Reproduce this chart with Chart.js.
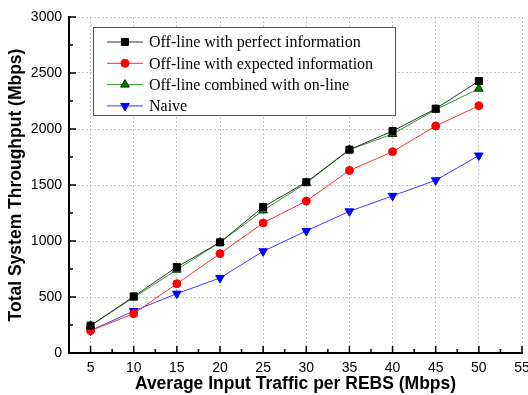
<!DOCTYPE html>
<html>
<head>
<meta charset="utf-8">
<script src="https://cdn.jsdelivr.net/npm/chart.js@4.4.1/dist/chart.umd.min.js"></script>
<style>
  html, body { margin: 0; padding: 0; background: #fff; }
  #wrap { width: 528px; height: 395px; position: relative; }
</style>
</head>
<body>
<div id="wrap"><canvas id="chart" width="528" height="395"></canvas></div>
<script>
// Данные графика
const traffic = [5, 10, 15, 20, 25, 30, 35, 40, 45, 50];
const perfectInfo = [244, 505, 768, 988, 1304, 1525, 1815, 1982, 2181, 2428];
const expectedInfo = [200, 351, 619, 887, 1161, 1357, 1630, 1797, 2027, 2208];
const combinedOnline = [244, 495, 744, 988, 1273, 1518, 1815, 1955, 2173, 2360];
const naive = [200, 375, 530, 670, 908, 1090, 1265, 1403, 1542, 1763];

const seriesNames = [
  "Off-line with perfect information",
  "Off-line with expected information",
  "Off-line combined with on-line",
  "Naive",
];

// Деления осей
const xTicks = [5, 10, 15, 20, 25, 30, 35, 40, 45, 50, 55];
const xMinorTicks = [7.5, 12.5, 17.5, 22.5, 27.5, 32.5, 37.5, 42.5, 47.5, 52.5];
const yTicks = [0, 500, 1000, 1500, 2000, 2500, 3000];
const yMinorTicks = [250, 750, 1250, 1750, 2250, 2750];

const xTitle = "Average Input Traffic per REBS (Mbps)";
const yTitle = "Total System Throughput (Mbps)";

function toPoints(values) {
  return values.map((v, i) => ({ x: traffic[i], y: v }));
}

// Легенда внутри области графика
const insideLegend = {
  id: "insideLegend",
  afterDraw(chart) {
    const ctx = chart.ctx;
    ctx.save();
    ctx.fillStyle = "#fff";
    ctx.fillRect(93.5, 27.5, 302, 88);
    ctx.strokeStyle = "#555";
    ctx.lineWidth = 1;
    ctx.strokeRect(93.5, 27.5, 302, 88);
    ctx.font = '16px "Liberation Serif"';
    ctx.textBaseline = "middle";
    chart.data.datasets.forEach((ds, i) => {
      const y = 42 + i * 21.3;
      ctx.strokeStyle = ds.borderColor;
      ctx.lineWidth = 1;
      ctx.beginPath();
      ctx.moveTo(107, y);
      ctx.lineTo(143, y);
      ctx.stroke();
      ctx.fillStyle = ds.pointBackgroundColor;
      ctx.strokeStyle = ds.pointBorderColor;
      Chart.helpers.drawPoint(ctx, {
        pointStyle: ds.pointStyle,
        radius: ds.pointRadius,
        rotation: ds.pointRotation || 0,
        borderWidth: 1,
      }, 125, y);
      ctx.fillStyle = "#000";
      ctx.fillText(ds.label, 149, y + 1);
    });
    ctx.restore();
  },
};

// Внутренние засечки на осях
const innerTicks = {
  id: "innerTicks",
  afterDraw(chart) {
    const { ctx, chartArea, scales } = chart;
    ctx.save();
    ctx.strokeStyle = "#000";
    ctx.lineWidth = 1.5;
    ctx.beginPath();
    xTicks.forEach((v) => {
      const px = scales.x.getPixelForValue(v);
      ctx.moveTo(px, chartArea.bottom);
      ctx.lineTo(px, chartArea.bottom - 7);
    });
    xMinorTicks.forEach((v) => {
      const px = scales.x.getPixelForValue(v);
      ctx.moveTo(px, chartArea.bottom);
      ctx.lineTo(px, chartArea.bottom - 4);
    });
    yTicks.forEach((v) => {
      const py = scales.y.getPixelForValue(v);
      ctx.moveTo(chartArea.left, py);
      ctx.lineTo(chartArea.left + 7, py);
    });
    yMinorTicks.forEach((v) => {
      const py = scales.y.getPixelForValue(v);
      ctx.moveTo(chartArea.left, py);
      ctx.lineTo(chartArea.left + 4, py);
    });
    ctx.stroke();
    ctx.restore();
  },
};

const tickFont = { family: "Liberation Sans", size: 14 };
const titleFont = { family: "Liberation Sans", size: 17.5, weight: "bold" };

const chart = new Chart(document.getElementById("chart").getContext("2d"), {
  type: "line",
  data: {
    datasets: [
      {
        label: seriesNames[0],
        data: toPoints(perfectInfo),
        borderColor: "#333",
        pointStyle: "rect",
        pointRadius: 5,
        pointBackgroundColor: "#000",
        pointBorderColor: "#000",
      },
      {
        label: seriesNames[1],
        data: toPoints(expectedInfo),
        borderColor: "#ff3030",
        pointStyle: "circle",
        pointRadius: 4,
        pointBackgroundColor: "#ff0000",
        pointBorderColor: "#ff0000",
      },
      {
        label: seriesNames[2],
        data: toPoints(combinedOnline),
        borderColor: "#2a9a2a",
        pointStyle: "triangle",
        pointRadius: 5,
        pointBackgroundColor: "#008000",
        pointBorderColor: "#003300",
      },
      {
        label: seriesNames[3],
        data: toPoints(naive),
        borderColor: "#3a3aff",
        pointStyle: "triangle",
        pointRotation: 180,
        pointRadius: 5,
        pointBackgroundColor: "#0000ff",
        pointBorderColor: "#0000ff",
      },
    ],
  },
  options: {
    responsive: false,
    animation: false,
    layout: { padding: { top: 17, right: 6, left: 0, bottom: 0 } },
    elements: {
      line: { borderWidth: 1, tension: 0 },
      point: { borderWidth: 1, hoverRadius: 5 },
    },
    plugins: {
      legend: { display: false },
      tooltip: { enabled: false },
    },
    scales: {
      x: {
        type: "linear",
        min: 2.5,
        max: 55,
        afterBuildTicks: (scale) => {
          scale.ticks = xTicks.map((v) => ({ value: v }));
        },
        afterFit: (scale) => {
          scale.height = 42;
          scale.paddingLeft = 0;
          scale.paddingRight = 0;
        },
        ticks: { font: tickFont, color: "#000", padding: 7, maxRotation: 0, autoSkip: false },
        grid: { color: "#c4c4c4", lineWidth: 1, drawTicks: false },
        border: { color: "#000", width: 2, dash: [2, 2] },
        title: { display: true, text: xTitle, font: titleFont, color: "#000", padding: { top: 0, bottom: 0 } },
      },
      y: {
        min: 0,
        max: 3000,
        afterBuildTicks: (scale) => {
          scale.ticks = yTicks.map((v) => ({ value: v }));
        },
        afterFit: (scale) => {
          scale.width = 69;
          scale.paddingTop = 0;
          scale.paddingBottom = 0;
        },
        ticks: { font: tickFont, color: "#000", padding: 7, callback: (v) => String(v) },
        grid: { color: "#c4c4c4", lineWidth: 1, drawTicks: false },
        border: { color: "#000", width: 2, dash: [2, 2] },
        title: { display: true, text: yTitle, font: titleFont, color: "#000", padding: { top: 6, bottom: 0 } },
      },
    },
  },
  plugins: [innerTicks, insideLegend],
});
</script>
</body>
</html>
